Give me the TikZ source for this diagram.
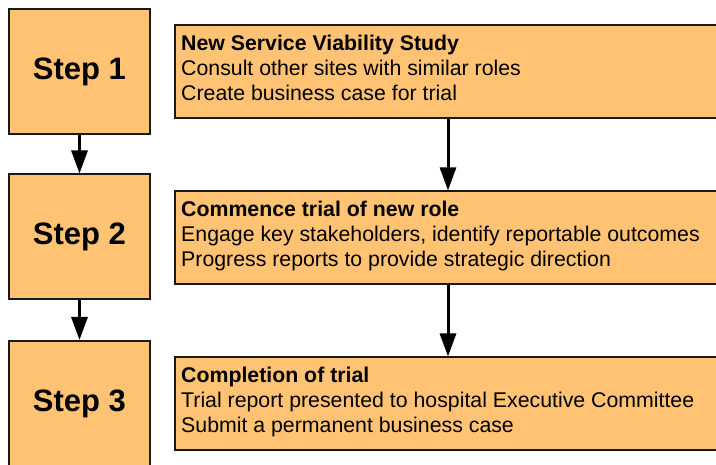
\documentclass[tikz,border=0pt]{standalone}
\usepackage{fontspec}
\setmainfont{Liberation Sans}
\usetikzlibrary{arrows.meta}
\definecolor{boxfill}{RGB}{255,195,115}
\definecolor{boxline}{RGB}{25,25,25}
\begin{document}
\begin{tikzpicture}[x=1pt,y=-1pt,
  stepbox/.style={draw=boxline, line width=2pt, fill=boxfill, minimum width=141pt, minimum height=125pt, inner sep=0pt, font=\fontsize{31}{37}\selectfont\bfseries},
  infobox/.style={draw=boxline, line width=2pt, fill=boxfill, minimum width=546pt, minimum height=93pt, inner sep=0pt},
  infotext/.style={anchor=north west, inner sep=0pt, align=left, font=\fontsize{21.3}{25}\selectfont},
  flow/.style={line width=3pt, -{Triangle[width=16pt,length=23pt]}}]
\useasboundingbox (0,0) rectangle (716,465);
\clip (0,0) rectangle (716,465);
% left step boxes
\node[stepbox] (step1) at (79.5,71.5) {Step 1};
\node[stepbox] (step2) at (79.5,237) {Step 2};
\node[stepbox] (step3) at (79.5,403.5) {Step 3};
% right info boxes
\node[infobox] (info1) at (448,71.5) {};
\node[infobox] (info2) at (448,238) {};
\node[infobox] (info3) at (448,404) {};
% texts
\node[infotext] (text1) at ([shift={(7pt,-10.5pt)}]info1.north west)
  {{\bfseries New Service Viability Study}\\Consult other sites with similar roles\\Create business case for trial};
\node[infotext] (text2) at ([shift={(7pt,-10.5pt)}]info2.north west)
  {{\bfseries Commence trial of new role}\\Engage key stakeholders, identify reportable outcomes\\Progress reports to provide strategic direction};
\node[infotext] (text3) at ([shift={(7pt,-10.5pt)}]info3.north west)
  {{\bfseries Completion of trial}\\Trial report presented to hospital Executive Committee\\Submit a permanent business case};
% connectors
\draw[flow] (step1) -- (step2);
\draw[flow] (step2) -- (step3);
\draw[flow] (info1) -- (info2);
\draw[flow] (info2) -- (info3);
\end{tikzpicture}
\end{document}
